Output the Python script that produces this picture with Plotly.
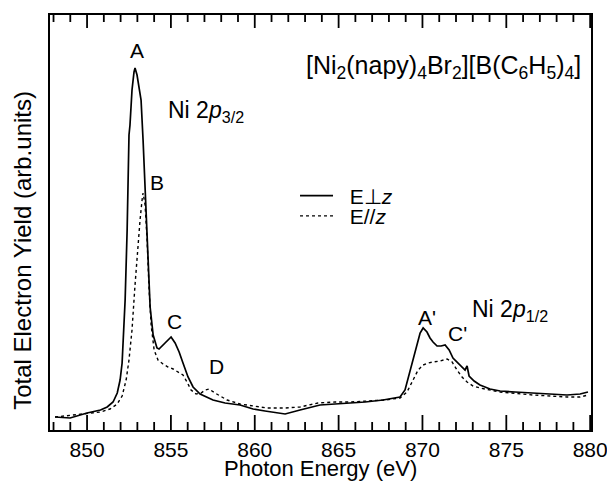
import plotly.graph_objects as go

# E perpendicular z (solid)
energy_perp = [848.09, 848.99, 850.0, 850.8, 851.2, 851.55, 851.8, 851.97, 852.09, 852.2,
               852.27, 852.39, 852.5, 852.56, 852.68, 852.8, 852.86, 852.98, 853.1, 853.22,
               853.34, 853.52, 853.64, 853.76, 853.94, 854.17, 854.29, 854.53, 854.77, 855.01,
               855.25, 855.49, 855.72, 856.02, 856.32, 856.74, 857.51, 858.23, 859.12, 859.9,
               860.61, 861.39, 861.81, 862.7, 863.89, 864.79, 865.68, 866.58, 867.65, 868.66,
               868.96, 869.26, 869.5, 869.68, 869.86, 870.04, 870.27, 870.45, 870.63, 870.87,
               871.11, 871.35, 871.59, 871.82, 872.18, 872.54, 872.66, 872.78, 873.08, 873.43,
               874.03, 874.63, 875.52, 876.6, 877.61, 878.62, 879.4, 879.87]
yield_perp = [13, 12, 17, 20, 23, 28, 37, 50, 67, 100,
              130, 200, 295, 305, 340, 358, 362, 355, 342, 330,
              290, 220, 165, 123, 95, 82, 81, 85, 90, 93,
              87, 78, 67, 53, 43, 36, 30, 27, 25, 21,
              19, 17, 16, 20, 25, 26, 27, 28, 30, 33,
              40, 60, 75, 85, 97, 102, 98, 92, 88, 84,
              84, 85, 80, 72, 66, 60, 64, 54, 49, 45,
              41, 39, 38, 37, 36, 35, 36, 38]

# E parallel z (dotted)
energy_par = [848.09, 850.0, 850.8, 851.37, 851.8, 852.09, 852.33, 852.5, 852.68, 852.86,
              853.04, 853.16, 853.28, 853.34, 853.46, 853.58, 853.7, 853.82, 854.0, 854.23,
              854.53, 854.83, 855.13, 855.43, 855.72, 855.96, 856.2, 856.5, 856.8, 857.04,
              857.27, 857.63, 858.35, 859.12, 859.9, 860.73, 861.81, 862.7, 863.77, 864.79,
              865.68, 866.7, 867.77, 868.66, 869.08, 869.44, 869.74, 870.04, 870.33, 870.63,
              871.05, 871.47, 871.77, 872.06, 872.36, 872.66, 873.02, 873.43, 874.63, 876.6,
              878.62, 879.4, 879.87]
yield_par = [13, 16, 18, 21, 26, 34, 50, 70, 100, 145,
             190, 210, 230, 237, 225, 190, 140, 105, 80, 70,
             66, 63, 61, 58, 55, 48, 40, 36, 37, 40,
             41, 37, 30, 26, 24, 22, 22, 23, 27, 28,
             28, 29, 30, 32, 38, 50, 60, 65, 67, 68,
             69, 71, 68, 60, 53, 48, 44, 42, 38, 35,
             33, 33, 35]

# axis ticks
major_ticks = [850, 855, 860, 865, 870, 875, 880]
minor_ticks = [848, 849, 851, 852, 853, 854, 856, 857, 858, 859, 861, 862, 863, 864,
               866, 867, 868, 869, 871, 872, 873, 874, 876, 877, 878, 879]

# peak labels (energy, yield, text)
peak_x = [852.98, 854.17, 855.19, 857.69, 870.27, 872.06]
peak_y = [380, 248, 109, 64, 113, 97]
peak_text = ["A", "B", "C", "D", "A'", "C'"]

X_RANGE = [847.79, 880.05]
Y_RANGE = [0, 415]
FONT = "Liberation Sans, Arial, Helvetica, sans-serif"

fig = go.Figure()
fig.add_trace(go.Scatter(x=energy_perp, y=yield_perp, mode="lines",
                         name="\u00a0\u00a0E\u22a5<i>z</i>", legend="legend",
                         line=dict(color="black", width=1.7)))
fig.add_trace(go.Scatter(x=energy_par, y=yield_par, mode="lines",
                         name="\u00a0\u00a0E//<i>z</i>", legend="legend2",
                         line=dict(color="black", width=1.4, dash="dot")))

# inward tick marks on bottom and top frame (drawn in axis units)
def tick_segments(vals, base, length):
    xs, ys = [], []
    for v in vals:
        xs += [v, v, None]
        ys += [base, base + length, None]
    return xs, ys

tx, ty = [], []
for vals, base, length in [(major_ticks, Y_RANGE[0], 15), (minor_ticks, Y_RANGE[0], 8),
                           (major_ticks, Y_RANGE[1], -13), (minor_ticks, Y_RANGE[1], -7)]:
    a, b = tick_segments(vals, base, length)
    tx += a
    ty += b
fig.add_trace(go.Scatter(x=tx, y=ty, mode="lines", showlegend=False, hoverinfo="skip",
                         cliponaxis=False,
                         line=dict(color="black", width=1.8)))

annotations = []
for px_, py_, t in zip(peak_x, peak_y, peak_text):
    annotations.append(dict(x=px_, y=py_, xref="x", yref="y", text=t, showarrow=False,
                            font=dict(size=21, family=FONT, color="black")))

annotations.append(dict(x=854.71, y=319, xref="x", yref="y", xanchor="left",
                        text="Ni 2<i>p</i><sub>3/2</sub>", showarrow=False,
                        font=dict(size=23, family=FONT, color="black")))
annotations.append(dict(x=872.84, y=120, xref="x", yref="y", xanchor="left",
                        text="Ni 2<i>p</i><sub>1/2</sub>", showarrow=False,
                        font=dict(size=23, family=FONT, color="black")))
annotations.append(dict(x=879.6, y=363, xref="x", yref="y", xanchor="right",
                        text="[Ni<sub>2</sub>(napy)<sub>4</sub>Br<sub>2</sub>][B(C<sub>6</sub>H<sub>5</sub>)<sub>4</sub>]",
                        showarrow=False,
                        font=dict(size=25, family=FONT, color="black")))
annotations.append(dict(x=-0.05, y=0.434, xref="paper", yref="paper",
                        xanchor="center", yanchor="middle",
                        text="Total Electron Yield (arb.units)", textangle=-90,
                        showarrow=False,
                        font=dict(size=24, family=FONT, color="black")))
annotations.append(dict(x=0.5, y=-0.093, xref="paper", yref="paper",
                        xanchor="center", yanchor="middle",
                        text="Photon Energy (eV)", showarrow=False,
                        font=dict(size=22, family=FONT, color="black")))

leg_common = dict(xanchor="left", yanchor="middle", bgcolor="rgba(0,0,0,0)",
                  font=dict(size=21, family=FONT, color="black"), itemwidth=33,
                  borderwidth=0)

fig.update_layout(
    width=607, height=482,
    margin=dict(l=50, r=16, t=15, b=52, autoexpand=False),
    paper_bgcolor="white", plot_bgcolor="white",
    font=dict(family=FONT, color="black"),
    annotations=annotations,
    showlegend=True,
    legend=dict(x=0.4529, y=0.564, **leg_common),
    legend2=dict(x=0.4529, y=0.515, **leg_common),
    xaxis=dict(range=X_RANGE, tickmode="array", tickvals=major_ticks, ticks="",
               showline=True, linecolor="black", linewidth=1.6, mirror=True,
               showgrid=False, zeroline=False, ticklabelstandoff=0,
               ticklabeloverflow="allow", automargin=False,
               tickfont=dict(size=21, family=FONT, color="black")),
    yaxis=dict(range=Y_RANGE, showticklabels=False, ticks="", automargin=False,
               showline=True, linecolor="black", linewidth=1.6, mirror=True,
               showgrid=False, zeroline=False),
)

fig.write_html("out.html")
